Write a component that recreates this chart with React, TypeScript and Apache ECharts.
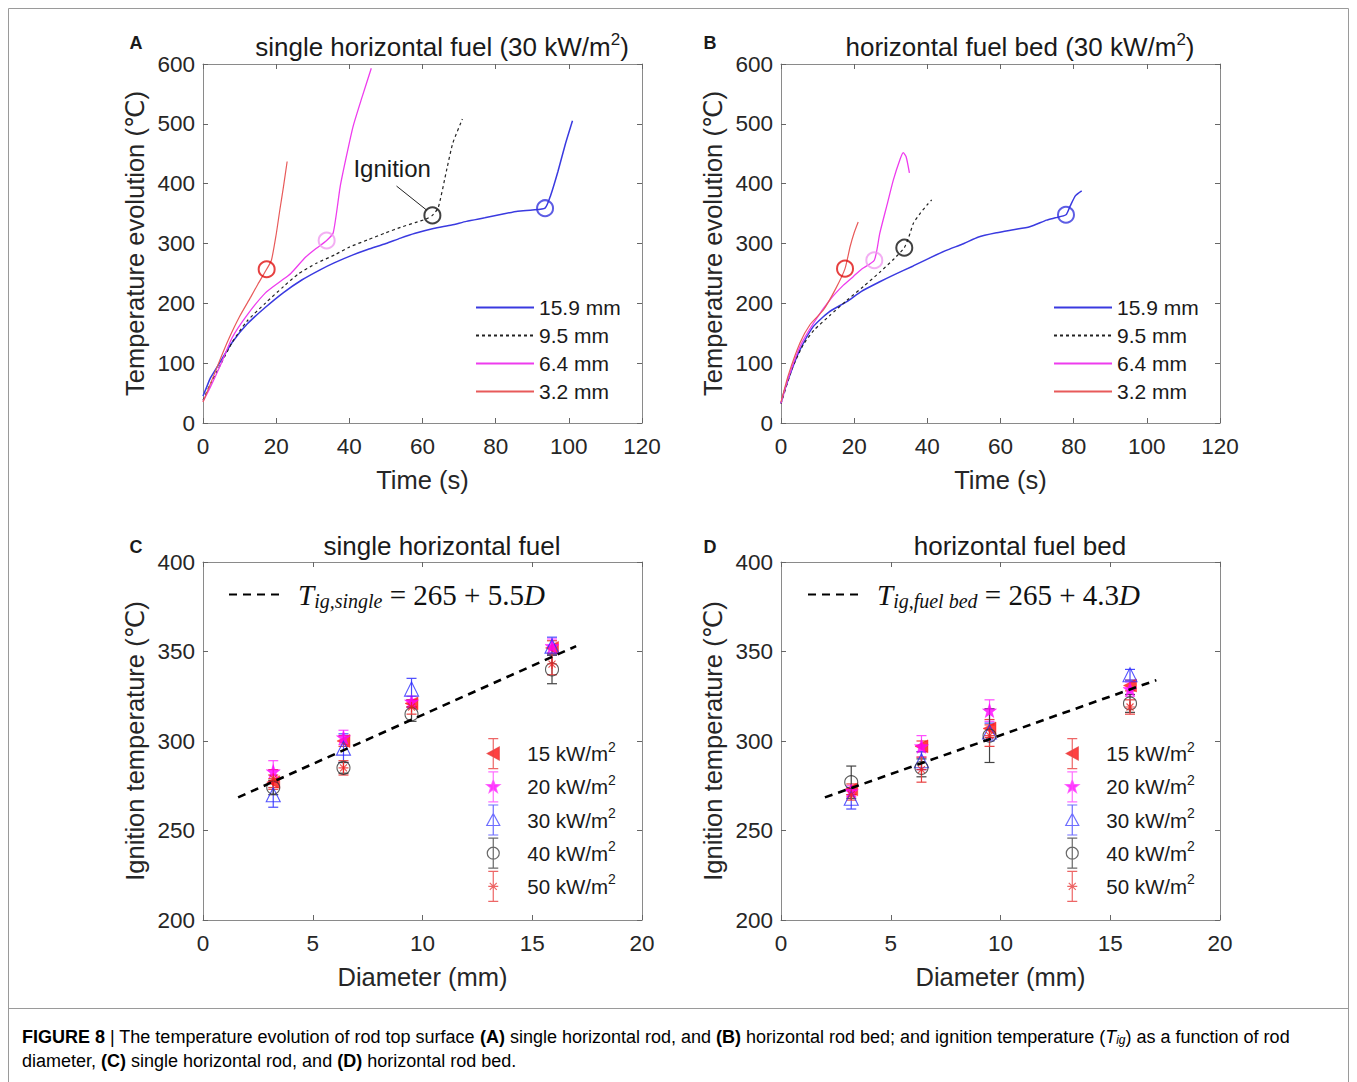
import React, { useEffect, useRef } from "react";
import * as echarts from "echarts";

const FONT = "Liberation Sans, Arial, DejaVu Sans, sans-serif";
const SERIF = "Liberation Serif, Times New Roman, serif";

// ---------- Panel A: single horizontal fuel (30 kW/m2) ----------
const curveNames = ["15.9 mm", "9.5 mm", "6.4 mm", "3.2 mm"];
const a159 = [[0,45],[1,60],[2,75],[3,85],[5,105],[8,135],[12,165],[17,193],[22,218],[27,239],[32,256],[36,268],[41,281],[45,290],[50,300],[54,309],[58,317],[63,325],[68,331],[72,337],[77,343],[81,348],[86,354],[90,356],[93.5,359],[95,380],[97,420],[99,465],[101,505]];
const a95 = [[0,38],[2,65],[5,100],[8,135],[12,170],[17,200],[22,228],[26,249],[31,267],[36,281],[40,294],[45,306],[50,318],[54,327],[58,335],[61,341],[62.7,347],[64.3,360],[66.6,423],[68.3,468],[70.9,508]];
const a64 = [[0,36],[2,60],[5,100],[8,143],[12,180],[17,217],[21,236],[24,250],[28,277],[31,292],[33.8,305],[35.6,318],[37.5,395],[39,440],[41,495],[43.5,545],[46,593]];
const a32 = [[0,35],[2,65],[4.6,105],[7,140],[10,178],[13,210],[15,232],[17.4,257],[18.7,272],[20,315],[21,356],[22,395],[23,437]];
const ignitionA = [[93.5,359],[62.7,347],[33.8,305],[17.4,257]];
const ignitionLabelA = [51.7, 426];
const ignitionPointerA = [[52.9, 396], [61.1, 356]];

// ---------- Panel B: horizontal fuel bed (30 kW/m2) ----------
const b159 = [[0,33],[1,55],[3,90],[5,120],[8.8,161],[13,185],[18,203],[22,220],[27,236],[31,248],[36,262],[40,274],[45,288],[50,300],[54,311],[59,318],[63.5,323],[68,328],[72.6,339],[75,343],[77.9,348],[79,362],[80.5,380],[82.2,388]];
const b95 = [[0,32],[3,90],[6,130],[9,155],[13.4,180],[18,205],[22.5,228],[27,252],[31,275],[33.7,293],[35,312],[36.2,334],[38,350],[40,365],[41.2,373]];
const b64 = [[0,33],[2,75],[5.2,128],[9,168],[13.4,206],[17,230],[19.8,245],[22,257],[25.5,272],[27,317],[29,365],[30.7,406],[32.5,440],[33.4,452],[34.2,445],[35.1,418]];
const b32 = [[0,35],[2,80],[5.2,134],[8,165],[11.6,189],[15,225],[17.5,258],[18.9,295],[20,318],[21.1,336]];
const ignitionB = [[77.9,348],[33.7,293],[25.5,272],[17.5,258]];

// ---------- Panels C, D: ignition temperature vs diameter ----------
const diameters = [3.2, 6.4, 9.5, 15.9];
const fluxNames = ["15 kW/m2", "20 kW/m2", "30 kW/m2", "40 kW/m2", "50 kW/m2"];
const tigC = [
  [277, 300, 321, 352],
  [283, 302, 322, 353],
  [270, 296, 329, 353],
  [274, 285, 315, 340],
  [279, 285, 319, 343],
];
const errC = [
  [4, 3, 2, 4],
  [6, 4, 3, 4],
  [7, 8, 6, 5],
  [4, 3, 4, 8],
  [5, 4, 4, 6],
];
const tigD = [
  [273, 297, 307, 331],
  [272, 297, 317, 329],
  [268, 289, 305, 337],
  [277, 285, 303, 321],
  [270, 284, 303, 319],
];
const errD = [
  [3, 3, 5, 3],
  [3, 6, 6, 4],
  [6, 5, 5, 3],
  [9, 5, 15, 5],
  [3, 7, 6, 4],
];
const fitC = [[1.6, 268.5], [17, 353]];
const fitD = [[2.0, 268.5], [17.1, 334]];

// ---------- styling ----------
const curveColors = ["#3a3ae0", "#222222", "#ee3cee", "#e85a5a"];
const curveWidths = [1.5, 1.2, 1.3, 1.2];
const curveTypes: any[] = ["solid", [3, 3], "solid", "solid"];
const ignColors = ["#3434dd", "#111111", "#f09af0", "#e01010"];

const fluxColors = ["#ff1010", "#ff00ff", "#2a2aff", "#333333", "#ee2020"];
const errColors = ["#e84040", "#ff4cff", "#4a4aff", "#444444", "#e84040"];
const STAR = "path://M0,-10L2.35,-3.24L9.51,-3.09L3.8,1.24L5.88,8.09L0,4L-5.88,8.09L-3.8,1.24L-9.51,-3.09L-2.35,-3.24Z";
const AST = "path://M0,-10L0,10M-10,0L10,0M-7,-7L7,7M-7,7L7,-7";
const fluxSymbols = ["triangle", STAR, "triangle", "circle", AST];
const fluxRotate = [90, 0, 0, 0, 0];
const fluxSizes = [13, 14, 14, 13, 10];
const fluxFill = ["#ff1010", "#ff00ff", "rgba(0,0,0,0)", "rgba(0,0,0,0)", "rgba(0,0,0,0)"];

const BAR = "M-5,-15L5,-15M0,-15L0,15M-5,15L5,15";
const legendIcons = [
  "path://" + BAR + "M-6,0L6,-6.5L6,6.5Z",
  "path://" + BAR + "M0,-7L1.65,-2.27L6.66,-2.16L2.66,0.87L4.12,5.66L0,2.8L-4.12,5.66L-2.66,0.87L-6.66,-2.16L-1.65,-2.27Z",
  "path://" + BAR + "M0,-6.5L6.5,5.5L-6.5,5.5Z",
  "path://" + BAR + "M6,0A6,6 0 1 1 -6,0A6,6 0 1 1 6,0Z",
  "path://" + BAR + "M0,-5L0,5M-5,0L5,0M-3.5,-3.5L3.5,3.5M-3.5,3.5L3.5,-3.5",
];

const grids = [
  { left: 203, top: 64, width: 439, height: 359 },
  { left: 781, top: 64, width: 439, height: 359 },
  { left: 203, top: 562, width: 439, height: 358 },
  { left: 781, top: 562, width: 439, height: 358 },
];

const AXIS_COLOR = "#8a8a8a";
const TICK_FS = 22.5;
const NAME_FS = 25.5;

function xAxes(gridIndex: number, min: number, max: number, interval: number, name: string) {
  const base = {
    type: "value", gridIndex, min, max, interval,
    axisLine: { show: true, onZero: false, lineStyle: { color: AXIS_COLOR, width: 1 } },
    axisTick: { show: true, inside: true, length: 5, lineStyle: { color: "#666" } },
    splitLine: { show: false },
  };
  return [
    { ...base, position: "bottom",
      axisLabel: { fontSize: TICK_FS, color: "#262626", margin: 12, fontFamily: FONT },
      name, nameLocation: "middle", nameGap: 44,
      nameTextStyle: { fontSize: NAME_FS, color: "#262626", fontFamily: FONT } },
    { ...base, position: "top", axisLabel: { show: false } },
  ];
}
function yAxes(gridIndex: number, min: number, max: number, interval: number, name: string) {
  const base = {
    type: "value", gridIndex, min, max, interval,
    axisLine: { show: true, onZero: false, lineStyle: { color: AXIS_COLOR, width: 1 } },
    axisTick: { show: true, inside: true, length: 5, lineStyle: { color: "#666" } },
    splitLine: { show: false },
  };
  return [
    { ...base, position: "left",
      axisLabel: { fontSize: TICK_FS, color: "#262626", margin: 8, fontFamily: FONT },
      name, nameLocation: "middle", nameGap: 55,
      nameTextStyle: { fontSize: NAME_FS, color: "#262626", fontFamily: "Liberation Sans, DejaVu Sans, sans-serif" } },
    { ...base, position: "right", axisLabel: { show: false } },
  ];
}

function curveSeries(names: string[], datas: number[][][], axisIdx: number) {
  return datas.map((d, i) => ({
    type: "line", name: names[i], data: d, xAxisIndex: axisIdx, yAxisIndex: axisIdx,
    symbol: "none", smooth: 0.2, z: 2,
    lineStyle: { color: curveColors[i], width: curveWidths[i], type: curveTypes[i] },
    itemStyle: { color: curveColors[i] },
  }));
}

function ignitionSeries(points: number[][], axisIdx: number, extra: any = {}) {
  return {
    type: "scatter", name: "ignition" + axisIdx, xAxisIndex: axisIdx, yAxisIndex: axisIdx,
    symbol: "circle", symbolSize: 16, z: 5,
    data: points.map((p, i) => ({
      value: p,
      itemStyle: { color: "rgba(255,255,255,0)", borderColor: ignColors[i], borderWidth: 2 },
    })),
    ...extra,
  };
}

function errRender(color: string) {
  return (params: any, api: any) => {
    const x = api.value(0);
    const lo = api.coord([x, api.value(1)]);
    const hi = api.coord([x, api.value(2)]);
    const w = 5;
    const st = { stroke: color, lineWidth: 1.2 };
    return {
      type: "group",
      children: [
        { type: "line", shape: { x1: lo[0], y1: lo[1], x2: hi[0], y2: hi[1] }, style: st },
        { type: "line", shape: { x1: lo[0] - w, y1: lo[1], x2: lo[0] + w, y2: lo[1] }, style: st },
        { type: "line", shape: { x1: hi[0] - w, y1: hi[1], x2: hi[0] + w, y2: hi[1] }, style: st },
      ],
    };
  };
}

function fluxSeries(vals: number[][], errs: number[][], axisIdx: number) {
  const out: any[] = [];
  vals.forEach((row, k) => {
    out.push({
      type: "custom", name: "err" + axisIdx + "_" + k, coordinateSystem: "cartesian2d",
      xAxisIndex: axisIdx, yAxisIndex: axisIdx, z: 3,
      renderItem: errRender(errColors[k]),
      encode: { x: 0, y: [1, 2] },
      data: row.map((v, j) => [diameters[j], v - errs[k][j], v + errs[k][j]]),
    });
  });
  vals.forEach((row, k) => {
    out.push({
      type: "scatter", name: fluxNames[k], xAxisIndex: axisIdx, yAxisIndex: axisIdx, z: 4,
      symbol: fluxSymbols[k], symbolSize: fluxSizes[k], symbolRotate: fluxRotate[k],
      itemStyle: { color: fluxFill[k], borderColor: fluxColors[k], borderWidth: k === 0 || k === 1 ? 0.5 : 1.1 },
      data: row.map((v, j) => [diameters[j], v]),
    });
  });
  return out;
}

function fitSeries(name: string, pts: number[][], axisIdx: number) {
  return {
    type: "line", name, data: pts, xAxisIndex: axisIdx, yAxisIndex: axisIdx, symbol: "none", z: 6,
    lineStyle: { color: "#000", width: 2.6, type: [8, 6] }, itemStyle: { color: "#000" },
  };
}

const supRich = {
  a: { fontSize: 20.5, fontFamily: FONT, color: "#1a1a1a", lineHeight: 28 },
  s: { fontSize: 14, fontFamily: FONT, color: "#1a1a1a", lineHeight: 16, verticalAlign: "top" },
};

function fluxLegend(left: number) {
  return {
    orient: "vertical", left, top: 738, itemWidth: 58, itemHeight: 30, itemGap: 2, padding: 0,
    selectedMode: false,
    data: fluxNames.map((n, k) => ({
      name: n, icon: legendIcons[k],
      itemStyle: { color: fluxFill[k], borderColor: errColors[k], borderWidth: 1.2 },
    })),
    formatter: (n: string) => `{a|${n.replace("kW/m2", "kW/m")}}{s|2}`,
    textStyle: { rich: supRich },
  };
}

const eqRich = {
  T0: { fontFamily: SERIF, fontStyle: "italic", fontSize: 29, lineHeight: 32, color: "#111", padding: [0, 0, 0, 9] },
  T: { fontFamily: SERIF, fontStyle: "italic", fontSize: 29, lineHeight: 32, color: "#111" },
  s: { fontFamily: SERIF, fontStyle: "italic", fontSize: 20, lineHeight: 17, color: "#111", verticalAlign: "bottom" },
  n: { fontFamily: SERIF, fontSize: 29, lineHeight: 32, color: "#111" },
};

function fitLegend(left: number, name: string, text: string) {
  return {
    left, top: 580, itemWidth: 55, itemHeight: 14, padding: 0, selectedMode: false,
    itemStyle: { opacity: 0 },
    data: [name], formatter: () => text, textStyle: { rich: eqRich },
  };
}

function curveLegend(left: number) {
  return {
    orient: "vertical", left, top: 297, itemWidth: 58, itemHeight: 14, itemGap: 7, padding: 0,
    selectedMode: false, data: curveNames, backgroundColor: "#fff",
    itemStyle: { opacity: 0 },
    textStyle: { fontSize: 21, color: "#1a1a1a", fontFamily: FONT, lineHeight: 20 },
  };
}

const titleRich = {
  n: { fontSize: 26, fontFamily: FONT, color: "#1a1a1a", lineHeight: 32 },
  sup: { fontSize: 17, fontFamily: FONT, color: "#1a1a1a", lineHeight: 18, verticalAlign: "top" },
};

function txt(x: number, y: number, text: string, style: any) {
  return { type: "text", x, y, silent: true, style: { text, align: "center", verticalAlign: "middle", fill: "#1a1a1a", ...style } };
}

const capRich = {
  r: { fontSize: 18, fontFamily: FONT, color: "#333" },
  b: { fontSize: 18, fontFamily: FONT, color: "#333", fontWeight: "bold" },
  i: { fontSize: 18, fontFamily: FONT, color: "#333", fontStyle: "italic" },
  sub: { fontSize: 12, fontFamily: FONT, color: "#333", fontStyle: "italic", lineHeight: 10, verticalAlign: "bottom" },
};

export default function App() {
  const ref = useRef<HTMLDivElement>(null);
  useEffect(() => {
    if (!ref.current) return;
    const chart = echarts.init(ref.current, null, { renderer: "svg" });
    const option: any = {
      animation: false,
      backgroundColor: "#fff",
      grid: grids,
      xAxis: [
        ...xAxes(0, 0, 120, 20, "Time (s)"),
        ...xAxes(1, 0, 120, 20, "Time (s)"),
        ...xAxes(2, 0, 20, 5, "Diameter (mm)"),
        ...xAxes(3, 0, 20, 5, "Diameter (mm)"),
      ],
      yAxis: [
        ...yAxes(0, 0, 600, 100, "Temperature evolution (℃)"),
        ...yAxes(1, 0, 600, 100, "Temperature evolution (℃)"),
        ...yAxes(2, 200, 400, 50, "Ignition temperature (℃)"),
        ...yAxes(3, 200, 400, 50, "Ignition temperature (℃)"),
      ],
      legend: [
        curveLegend(475),
        curveLegend(1053),
        fitLegend(228, "fitC", "{T0|T}{s|ig,single}{n| = 265 + 5.5}{T|D}"),
        fitLegend(807, "fitD", "{T0|T}{s|ig,fuel bed}{n| = 265 + 4.3}{T|D}"),
        fluxLegend(486),
        fluxLegend(1065),
      ],
      series: [
        ...curveSeries(curveNames, [a159, a95, a64, a32], 0),
        ignitionSeries(ignitionA, 0, {
          markPoint: {
            symbol: "circle", symbolSize: 0,
            label: { show: true, position: "inside", formatter: "Ignition", fontSize: 24, color: "#1a1a1a", fontFamily: FONT },
            data: [{ coord: ignitionLabelA }],
          },
          markLine: {
            symbol: "none", silent: true,
            label: { show: false },
            lineStyle: { color: "#222", width: 1, type: "solid" },
            data: [[{ coord: ignitionPointerA[0] }, { coord: ignitionPointerA[1] }]],
          },
        }),
        ...curveSeries(curveNames, [b159, b95, b64, b32], 2),
        ignitionSeries(ignitionB, 2),
        ...fluxSeries(tigC, errC, 4),
        fitSeries("fitC", fitC, 4),
        ...fluxSeries(tigD, errD, 6),
        fitSeries("fitD", fitD, 6),
      ],
      graphic: [
        { type: "rect", silent: true, shape: { x: 8.5, y: 8.5, width: 1340, height: 1090 }, style: { fill: "none", stroke: "#9a9a9a", lineWidth: 1 } },
        { type: "line", silent: true, shape: { x1: 8.5, y1: 1008.5, x2: 1348.5, y2: 1008.5 }, style: { stroke: "#9a9a9a", lineWidth: 1 } },
        txt(136, 43, "A", { fontSize: 18, fontWeight: "bold", fontFamily: FONT }),
        txt(710, 43, "B", { fontSize: 18, fontWeight: "bold", fontFamily: FONT }),
        txt(136, 547, "C", { fontSize: 18, fontWeight: "bold", fontFamily: FONT }),
        txt(710, 547, "D", { fontSize: 18, fontWeight: "bold", fontFamily: FONT }),
        txt(442, 47, "{n|single horizontal fuel (30 kW/m}{sup|2}{n|)}", { rich: titleRich }),
        txt(1020, 47, "{n|horizontal fuel bed (30 kW/m}{sup|2}{n|)}", { rich: titleRich }),
        txt(442, 546, "{n|single horizontal fuel}", { rich: titleRich }),
        txt(1020, 546, "{n|horizontal fuel bed}", { rich: titleRich }),
        { type: "text", x: 22, y: 1037, silent: true, style: {
          text: "{b|FIGURE 8}{r| | The temperature evolution of rod top surface }{b|(A)}{r| single horizontal rod, and }{b|(B)}{r| horizontal rod bed; and ignition temperature (}{i|T}{sub|ig}{r|) as a function of rod}",
          verticalAlign: "middle", rich: capRich } },
        { type: "text", x: 22, y: 1061, silent: true, style: {
          text: "{r|diameter, }{b|(C)}{r| single horizontal rod, and }{b|(D)}{r| horizontal rod bed.}",
          verticalAlign: "middle", rich: capRich } },
      ],
    };
    chart.setOption(option);
    return () => chart.dispose();
  }, []);
  return (
    <div
      ref={ref}
      style={{ position: "absolute", left: 0, top: 0, width: 1357, height: 1082, background: "#fff" }}
    />
  );
}
